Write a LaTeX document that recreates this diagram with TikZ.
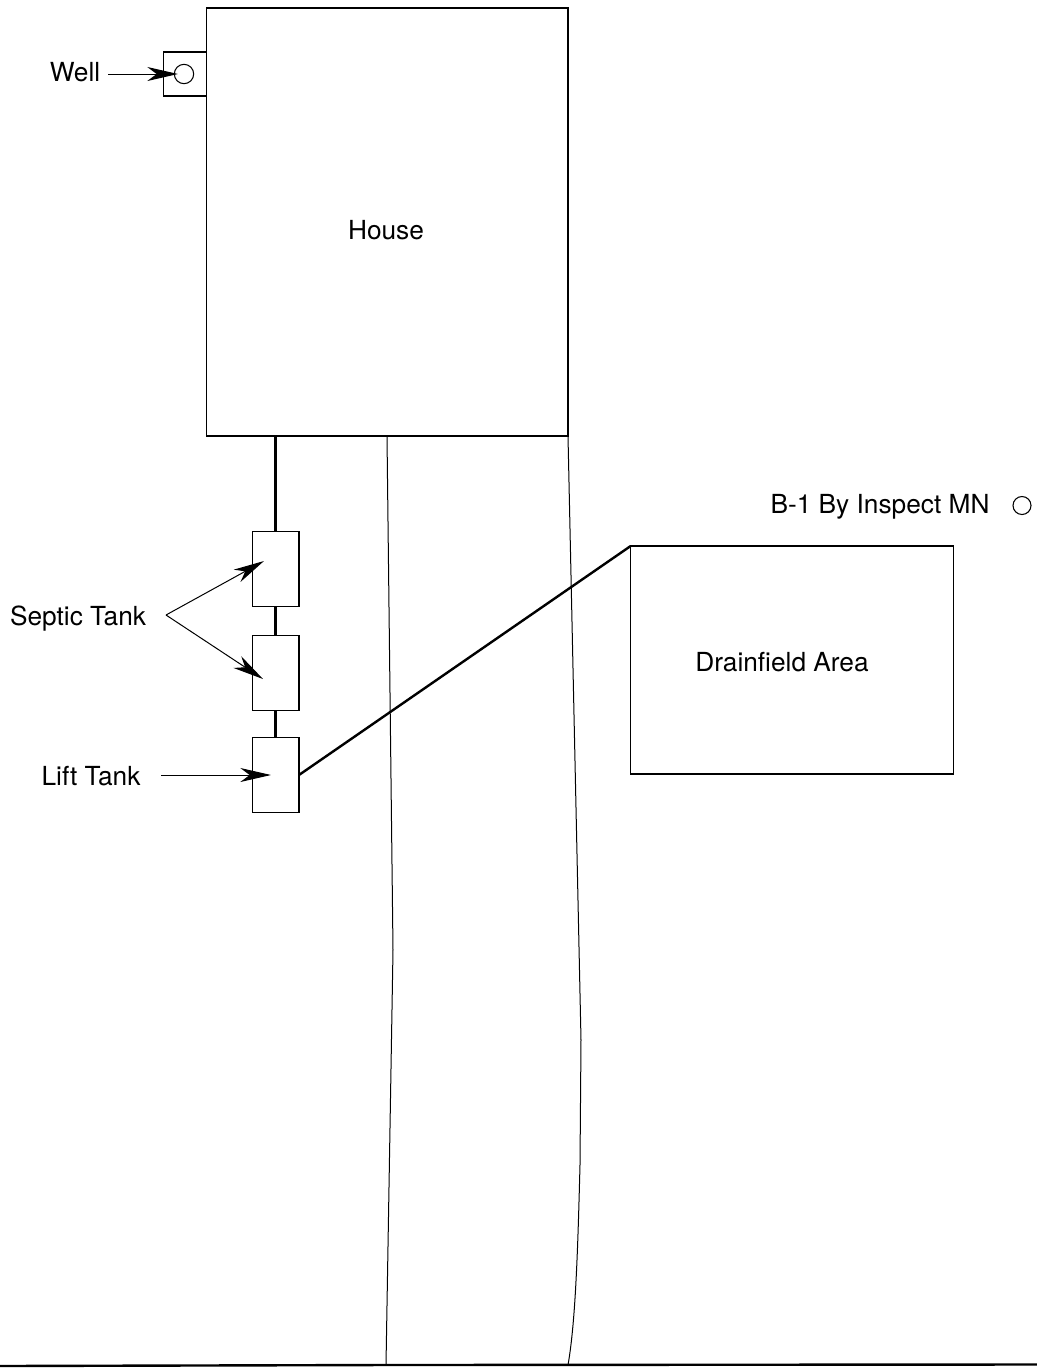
\documentclass[tikz,border=0pt]{standalone}
\usepackage{fontspec}
\setmainfont{TeX Gyre Heros}
\usetikzlibrary{arrows.meta}

\begin{document}
\begin{tikzpicture}[x=0.75pt,y=-0.75pt,>={Stealth[length=23pt,width=10.5pt,inset=7pt]},
  line width=0.75pt,
  box node/.style={rectangle,draw,inner sep=0pt,outer sep=0pt,line width=0.8pt},
  tank node/.style={box node,minimum width=35.2pt,minimum height=56.5pt},
  hole node/.style={circle,draw,inner sep=0pt,outer sep=0pt,line width=0.8pt},
  label node/.style={inner sep=0pt,font=\fontsize{19.7}{24}\selectfont},
  pipe/.style={line width=1.8pt}]

  \useasboundingbox (0,0) rectangle (1037,1368);

  \node[box node,minimum width=32pt,minimum height=33pt] (wellbox) at (185,74) {};
  \node[box node,minimum width=271pt,minimum height=321pt] (house) at (387.3,222) {};
  \node[hole node,minimum size=14.5pt] (well) at (184,74) {};
  \node[tank node] (tank1) at (275.5,568.7) {};
  \node[tank node] (tank2) at (275.5,673) {};
  \node[tank node] (lift) at (275.5,775) {};
  \node[box node,minimum width=242pt,minimum height=171pt] (drain) at (792,660) {};
  \node[hole node,minimum size=13.5pt] (b1) at (1022,505.5) {};

  \node[label node] (welllabel) at (75,72) {Well};
  \node[label node] (houselabel) at (386,230) {House};
  \node[label node] (septiclabel) at (78,619) {Septic Tank};
  \node[label node] (liftlabel) at (91,776) {Lift Tank};
  \node[label node] (drainlabel) at (782,662) {Drainfield Area};
  \node[label node] (b1label) at (880,507) {B-1 By Inspect MN};

  \coordinate (wellstart) at (108,74);
  \coordinate (wellend) at (178,74);
  \coordinate (septicstart) at (166,615);
  \coordinate (tank1end) at (264,561);
  \coordinate (tank2end) at (263,679);
  \coordinate (liftstart) at (161,775);
  \coordinate (liftend) at (271,775);
  \coordinate (stem) at (275.5,436);
  \coordinate (leftroad) at (387,436);
  \coordinate (rightroad) at (568,436);
  \coordinate (leftbend) at (393,950);
  \coordinate (leftfoot) at (386,1365);
  \coordinate (rightfoot) at (568,1365);
  \coordinate (groundleft) at (0,1366);
  \coordinate (groundright) at (1037,1364.5);

  \path[->]
    (wellstart) edge (wellend)
    (septicstart) edge (tank1end)
    (septicstart) edge (tank2end)
    (liftstart) edge (liftend)
    ;

  \path[pipe]
    (stem) edge (tank1.north)
    (tank1.south) edge (tank2.north)
    (tank2.south) edge (lift.north)
    (lift.east) edge (drain.north west)
    ;

  \draw (leftroad) -- (leftbend) -- (leftfoot);
  \draw (rightroad) -- (581,1040) -- (580,1165) .. controls (578,1240) and (576,1320) .. (rightfoot);
  \draw[pipe] (groundleft) -- (leftfoot) -- (groundright);

\end{tikzpicture}
\end{document}
